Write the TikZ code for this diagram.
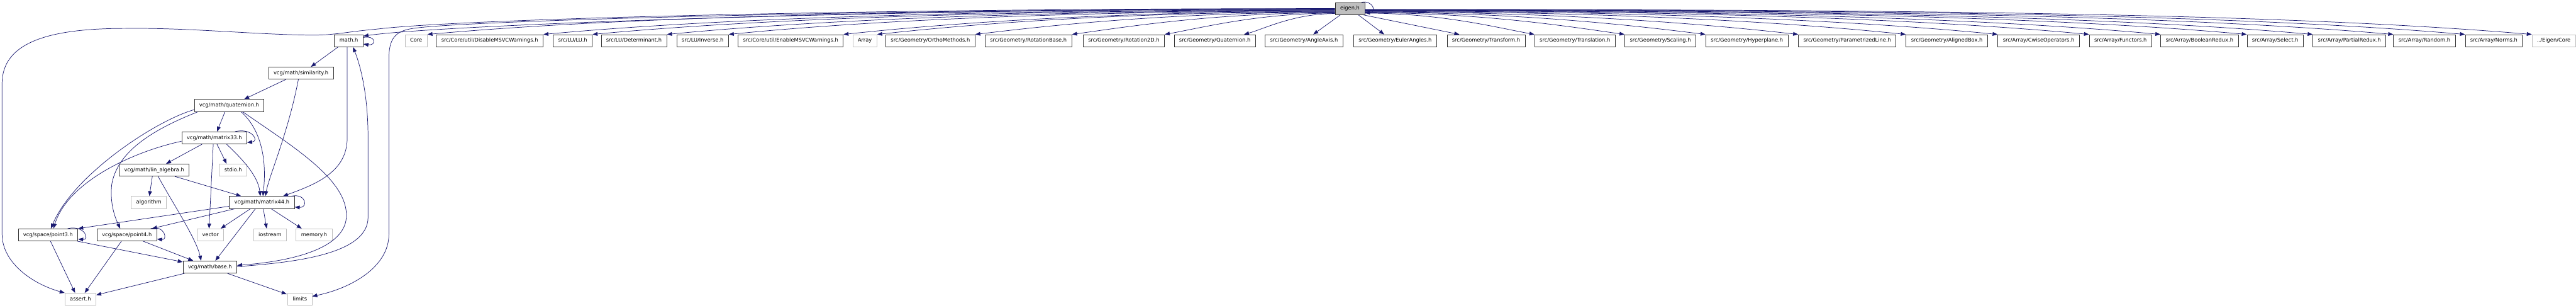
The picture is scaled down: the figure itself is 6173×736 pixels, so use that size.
\documentclass[tikz,border=0pt]{standalone}
\usepackage{fontspec}
\setmainfont{DejaVu Sans}
\usetikzlibrary{arrows.meta,calc}
\definecolor{edgecol}{HTML}{191970}
\definecolor{gbord}{HTML}{BFBFBF}
\begin{document}
\begin{tikzpicture}[x=1pt,y=-1pt,
  nbox/.style={draw=black!80, line width=1.3pt, fill=white, anchor=west, minimum height=29pt, inner xsep=12pt, inner ysep=0pt, text height=9.3pt, text depth=2.7pt, font=\fontsize{12.5}{15}\selectfont},
  extbox/.style={nbox, draw=gbord},
  rootbox/.style={nbox, fill=gbord},
  edg/.style={draw=edgecol, line width=1.1pt, -{Triangle[length=12pt,width=9pt]}},
  fan/.style={to path={let \p1=(\tikztostart), \p2=(\tikztotarget), \n1={\x1-\x2}, \n2={abs(\n1)} in .. controls (\x1-0.45*\n1,\y1) and (\x2+0.22*\n1,\y2+0.015*\n2+10pt) .. (\tikztotarget) \tikztonodes}}
]
\path[use as bounding box] (0,0) rectangle (6173,736);

% root
\node[rootbox] (eigen) at (3199,20.5) {eigen.h};

% top row
\node[nbox]   (math)  at (801,97.5)  {math.h};
\node[extbox] (core)  at (970,97.5)  {Core};
\node[nbox]   (dis)   at (1045,97.5) {src/Core/util/DisableMSVCWarnings.h};
\node[nbox]   (lu)    at (1325,97.5) {src/LU/LU.h};
\node[nbox]   (det)   at (1440,97.5) {src/LU/Determinant.h};
\node[nbox]   (inv)   at (1621,97.5) {src/LU/Inverse.h};
\node[nbox]   (ena)   at (1768,97.5) {src/Core/util/EnableMSVCWarnings.h};
\node[extbox] (arr)   at (2043,97.5) {Array};
\node[nbox]   (ortho) at (2122,97.5) {src/Geometry/OrthoMethods.h};
\node[nbox]   (rbase) at (2360,97.5) {src/Geometry/RotationBase.h};
\node[nbox]   (rot2)  at (2595,97.5) {src/Geometry/Rotation2D.h};
\node[nbox]   (quat)  at (2813,97.5) {src/Geometry/Quaternion.h};
\node[nbox]   (aax)   at (3031,97.5) {src/Geometry/AngleAxis.h};
\node[nbox]   (eul)   at (3243,97.5) {src/Geometry/EulerAngles.h};
\node[nbox]   (trf)   at (3467,97.5) {src/Geometry/Transform.h};
\node[nbox]   (trl)   at (3677,97.5) {src/Geometry/Translation.h};
\node[nbox]   (scl)   at (3893,97.5) {src/Geometry/Scaling.h};
\node[nbox]   (hyp)   at (4087,97.5) {src/Geometry/Hyperplane.h};
\node[nbox]   (pline) at (4309,97.5) {src/Geometry/ParametrizedLine.h};
\node[nbox]   (abox)  at (4567,97.5) {src/Geometry/AlignedBox.h};
\node[nbox]   (cwise) at (4787,97.5) {src/Array/CwiseOperators.h};
\node[nbox]   (func)  at (5006,97.5) {src/Array/Functors.h};
\node[nbox]   (bred)  at (5177,97.5) {src/Array/BooleanRedux.h};
\node[nbox]   (sel)   at (5384,97.5) {src/Array/Select.h};
\node[nbox]   (pred)  at (5542,97.5) {src/Array/PartialRedux.h};
\node[nbox]   (rnd)   at (5735,97.5) {src/Array/Random.h};
\node[nbox]   (nrm)   at (5907,97.5) {src/Array/Norms.h};
\node[extbox] (ecore) at (6067,97.5) {../Eigen/Core};

% left cluster
\node[nbox]   (sim)    at (643,175)   {vcg/math/similarity.h};
\node[nbox]   (vquat)  at (465,252.5) {vcg/math/quaternion.h};
\node[nbox]   (m33)    at (435,330)   {vcg/math/matrix33.h};
\node[nbox]   (lin)    at (285,407)   {vcg/math/lin\_algebra.h};
\node[extbox] (stdio)  at (525,407)   {stdio.h};
\node[extbox] (algo)   at (314,484.5) {algorithm};
\node[nbox]   (m44)    at (549,484.5) {vcg/math/matrix44.h};
\node[nbox]   (p3)     at (43,562)    {vcg/space/point3.h};
\node[nbox]   (p4)     at (232,562)   {vcg/space/point4.h};
\node[extbox] (vec)    at (472,562)   {vector};
\node[extbox] (ios)    at (607,562)   {iostream};
\node[extbox] (mem)    at (709,562)   {memory.h};
\node[nbox]   (base)   at (438,639)   {vcg/math/base.h};
\node[extbox] (assert) at (155,716)   {assert.h};
\node[extbox] (limits) at (689,716)   {limits};

% ---- edges from eigen.h ----
\draw[edg] ($(eigen.north east)+(-8,0)$) .. controls (3290,0) and (3300,30) .. ([yshift=-10pt]eigen.east);

\draw[edg] (eigen.west) .. controls (2100,20) and (1100,45) .. (900,70) .. controls (830,76) and (800,85) .. (740,84) .. controls (600,82) and (450,66) .. (300,68) .. controls (120,68) and (5,100) .. (5,200) -- (5,560) .. controls (5,630) and (80,680) .. (assert.north west);
\draw[edg] ([yshift=-1pt]eigen.west) .. controls (2100,21) and (1050,60) .. ($(math.north east)+(0,4)$);
\draw[edg] ([yshift=-1pt]eigen.west) .. controls (2100,21) and (1100,50) .. (990,68) .. controls (945,74) and (932,95) .. (932,140) -- (932,560) .. controls (932,640) and (840,690) .. ($(limits.east)+(0,-7)$);
\draw[edg] ([yshift=-2pt]eigen.west) to[fan] (core.north east);
\draw[edg] ([yshift=-3pt]eigen.west) to[fan] (dis.north east);
\draw[edg] ([yshift=-4pt]eigen.west) to[fan] (lu.north east);
\draw[edg] ([yshift=-5pt]eigen.west) to[fan] (det.north east);
\draw[edg] ([yshift=-6pt]eigen.west) to[fan] (inv.north east);
\draw[edg] ([yshift=-7pt]eigen.west) to[fan] (ena.north east);
\draw[edg] ([yshift=-8pt]eigen.west) to[fan] (arr.north east);
\draw[edg] ([yshift=-9pt]eigen.west) to[fan] (ortho.north east);
\draw[edg] ([yshift=-10pt]eigen.west) to[fan] (rbase.north east);
\draw[edg] ([yshift=-11pt]eigen.west) to[fan] (rot2.north east);
\draw[edg] ([yshift=-12pt]eigen.west) to[fan] ($(quat.north east)+(-28,0)$);
\draw[edg] ($(eigen.south west)+(13,0)$) -- ($(aax.north west)+(116,0)$);
\draw[edg] ($(eigen.south west)+(56,0)$) -- ($(eul.north west)+(74,0)$);
\draw[edg] ($(eigen.south east)+(-4,0)$) -- ($(trf.north west)+(30,0)$);
\draw[edg] ([yshift=-11pt]eigen.east) to[fan] (trl.north west);
\draw[edg] ([yshift=-10pt]eigen.east) to[fan] (scl.north west);
\draw[edg] ([yshift=-9pt]eigen.east) to[fan] (hyp.north west);
\draw[edg] ([yshift=-8pt]eigen.east) to[fan] (pline.north west);
\draw[edg] ([yshift=-7pt]eigen.east) to[fan] (abox.north west);
\draw[edg] ([yshift=-6pt]eigen.east) to[fan] (cwise.north west);
\draw[edg] ([yshift=-5pt]eigen.east) to[fan] (func.north west);
\draw[edg] ([yshift=-4.5pt]eigen.east) to[fan] (bred.north west);
\draw[edg] ([yshift=-4pt]eigen.east) to[fan] (sel.north west);
\draw[edg] ([yshift=-3.5pt]eigen.east) to[fan] (pred.north west);
\draw[edg] ([yshift=-3pt]eigen.east) to[fan] (rnd.north west);
\draw[edg] ([yshift=-2.5pt]eigen.east) to[fan] (nrm.north west);
\draw[edg] ([yshift=-2pt]eigen.east) to[fan] (ecore.north west);

% ---- math.h ----
\draw[edg] ([yshift=8pt]math.east) .. controls (902,84) and (902,110) .. ([yshift=-8pt]math.east);
\draw[edg] ($(math.south west)+(9,0)$) -- ($(sim.north west)+(102,0)$);
\draw[edg] ($(math.south west)+(31,0)$) -- (832,330) .. controls (832,410) and (760,440) .. ($(m44.north east)+(-28,0)$);

% ---- similarity ----
\draw[edg] ($(sim.south west)+(42,0)$) -- ($(vquat.north west)+(120,0)$);
\draw[edg] ($(sim.south west)+(72,0)$) .. controls (690,320) and (645,420) .. ($(m44.north west)+(87,0)$);

% ---- quaternion ----
\draw[edg] ($(vquat.south west)+(74,0)$) -- ($(m33.north west)+(85,0)$);
\draw[edg] ([yshift=-10pt]vquat.west) .. controls (370,290) and (175,420) .. ($(p3.north west)+(79,0)$);
\draw[edg] ($(vquat.south west)+(9,0)$) .. controls (340,320) and (280,375) .. (268,440) .. controls (262,490) and (278,525) .. ($(p4.north west)+(56,0)$);
\draw[edg] ($(vquat.south west)+(113,0)$) .. controls (625,310) and (640,380) .. ($(m44.north west)+(81,0)$);
\draw[edg] ($(vquat.south west)+(117,0)$) .. controls (700,350) and (835,430) .. (830,520) .. controls (825,595) and (700,625) .. ($(base.east)+(0,-4)$);

% ---- matrix33 ----
\draw[edg] ($(m33.north east)+(-29,0)$) .. controls (605,305) and (622,338) .. ([yshift=-11pt]m33.east);
\draw[edg] ($(m33.south west)+(85,0)$) -- ($(stdio.north west)+(18,0)$);
\draw[edg] ($(m33.south west)+(76,0)$) -- ($(vec.north west)+(29,0)$);
\draw[edg] ($(m33.south west)+(49,0)$) -- ($(lin.north west)+(113,0)$);
\draw[edg] ([yshift=-8pt]m33.west) .. controls (330,360) and (165,430) .. ($(p3.north west)+(85,0)$);
\draw[edg] ($(m33.south west)+(108,0)$) .. controls (580,380) and (618,420) .. ($(m44.north west)+(75,0)$);

% ---- lin_algebra ----
\draw[edg] ($(lin.south west)+(80,0)$) -- ($(algo.north west)+(44,0)$);
\draw[edg] ($(lin.south west)+(134,0)$) -- ($(m44.north west)+(29,0)$);
\draw[edg] ($(lin.south west)+(94,0)$) .. controls (410,480) and (470,570) .. ($(base.north west)+(44,0)$);

% ---- matrix44 ----
\draw[edg] ($(m44.north east)+(-8,0)$) .. controls (735,462) and (738,498) .. ([yshift=-11pt]m44.east);
\draw[edg] ([yshift=-9pt]m44.west) -- (p3.north east);
\draw[edg] ($(m44.south west)+(13,0)$) -- ($(p4.north east)+(-12,0)$);
\draw[edg] ($(m44.south west)+(51,0)$) -- ($(vec.north east)+(-8,0)$);
\draw[edg] ($(m44.south west)+(63,0)$) -- ($(base.north west)+(78,0)$);
\draw[edg] ($(m44.south west)+(82,0)$) -- ($(ios.north west)+(32,0)$);
\draw[edg] ($(m44.south west)+(101,0)$) -- ($(mem.north west)+(14,0)$);

% ---- points ----
\draw[edg] ($(p3.north east)+(-25,0)$) .. controls (205,538) and (215,575) .. ([yshift=-10pt]p3.east);
\draw[edg] ($(p4.north east)+(-15,0)$) .. controls (395,538) and (403,575) .. ([yshift=-10pt]p4.east);
\draw[edg] ($(p3.south east)+(-2,0)$) -- ($(base.north west)+(0,3)$);
\draw[edg] ($(p3.south west)+(78,0)$) -- ($(assert.north west)+(25,0)$);
\draw[edg] ($(p4.south west)+(59,0)$) -- ($(assert.north west)+(48,0)$);
\draw[edg] ($(p4.south west)+(111,0)$) -- ($(base.north west)+(25,0)$);

% ---- base ----
\draw[edg] ($(base.east)+(0,-1)$) .. controls (700,628) and (882,610) .. (882,520) -- (882,330) .. controls (882,230) and (865,160) .. ($(math.south)+(10,0)$);
\draw[edg] ($(base.south west)+(4,0)$) -- ($(assert.north east)+(0,5)$);
\draw[edg] ($(base.south west)+(107,0)$) -- ($(limits.north west)+(-2,3)$);
\end{tikzpicture}
\end{document}
